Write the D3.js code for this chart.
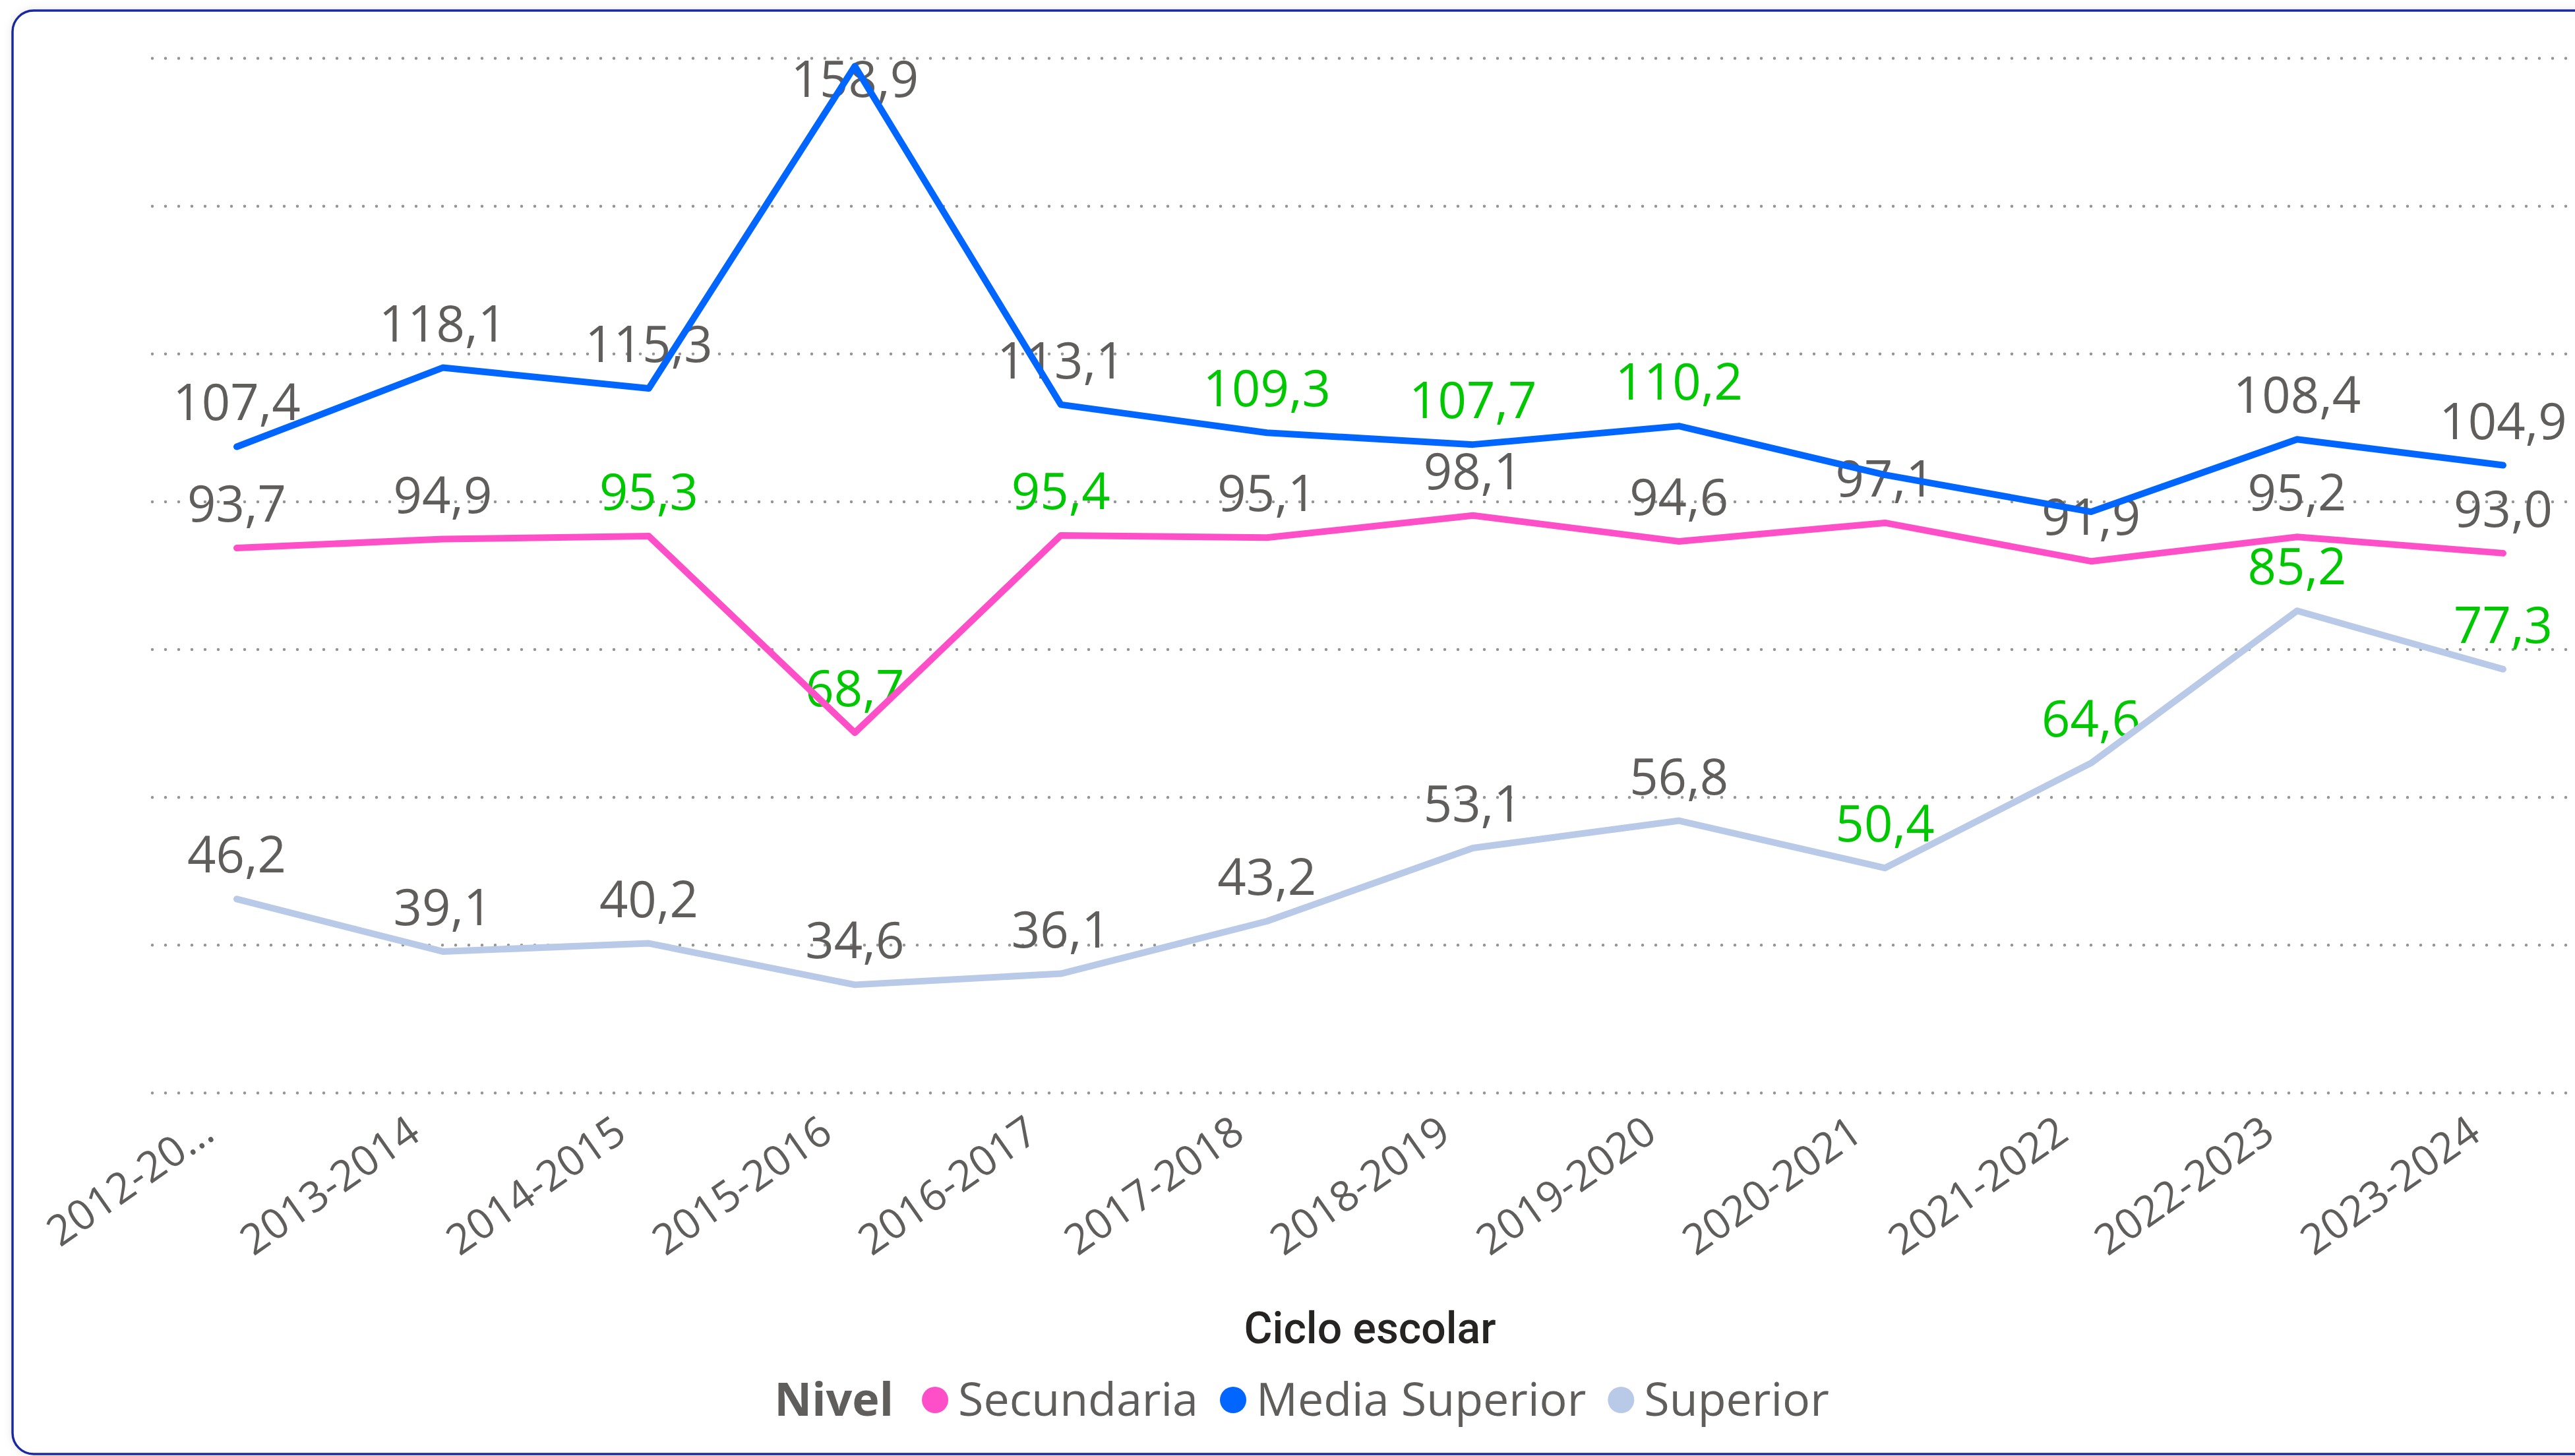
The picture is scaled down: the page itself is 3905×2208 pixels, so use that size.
<!DOCTYPE html>
<html><head><meta charset="utf-8">
<script src="https://cdn.jsdelivr.net/npm/d3@7"></script>
<style>html,body{margin:0;padding:0;background:#fff;overflow:hidden}</style>
</head><body>
<svg id="chart" width="3905" height="2208"></svg>
<script>
// ---- data ----
const categories = ["2012-2013","2013-2014","2014-2015","2015-2016","2016-2017","2017-2018","2018-2019","2019-2020","2020-2021","2021-2022","2022-2023","2023-2024"];
const tickLabels = ["2012-20\u2026","2013-2014","2014-2015","2015-2016","2016-2017","2017-2018","2018-2019","2019-2020","2020-2021","2021-2022","2022-2023","2023-2024"];
const secundaria    = [93.7, 94.9, 95.3, 68.7, 95.4, 95.1, 98.1, 94.6, 97.1, 91.9, 95.2, 93.0];
const mediaSuperior = [107.4, 118.1, 115.3, 158.9, 113.1, 109.3, 107.7, 110.2, 103.6, 98.6, 108.4, 104.9];
const superior      = [46.2, 39.1, 40.2, 34.6, 36.1, 43.2, 53.1, 56.8, 50.4, 64.6, 85.2, 77.3];
// label highlighted (green) flags
const secundariaHighlight    = [0,0,1,1,1,0,0,0,0,0,0,0];
const mediaSuperiorHighlight = [0,0,0,0,0,1,1,1,0,0,0,0];
const superiorHighlight      = [0,0,0,0,0,0,0,0,1,1,1,1];
// label shown flags (overlapping labels hidden)
const secundariaShown    = [1,1,1,1,1,1,1,1,1,1,1,1];
const mediaSuperiorShown = [1,1,1,1,1,1,1,1,0,0,1,1];
const superiorShown      = [1,1,1,1,1,1,1,1,1,1,1,1];
const seriesNames = ["Secundaria","Media Superior","Superior"];
const seriesColors = ["#FF4FC8","#0066FF","#B9C9E8"];
const gridTicks = [20,40,60,80,100,120,140,160];
const legendTitle = "Nivel";
const xTitle = "Ciclo escolar";

const series = [
  {name: seriesNames[0], color: seriesColors[0], values: secundaria, hl: secundariaHighlight, shown: secundariaShown},
  {name: seriesNames[1], color: seriesColors[1], values: mediaSuperior, hl: mediaSuperiorHighlight, shown: mediaSuperiorShown},
  {name: seriesNames[2], color: seriesColors[2], values: superior, hl: superiorHighlight, shown: superiorShown}
];

const svg = d3.select("#chart");
const labelFont = "'Segoe UI','Open Sans','Noto Sans',sans-serif";
const gray = "#605E5C";
const green = "#00C800";

// card with shadow + border
const defs = svg.append("defs");
const f = defs.append("filter").attr("id","sh").attr("x","-5%").attr("y","-5%").attr("width","110%").attr("height","110%");
f.append("feDropShadow").attr("dx",0).attr("dy",0).attr("stdDeviation",7).attr("flood-color","#000").attr("flood-opacity",0.13);
svg.append("rect").attr("x",19).attr("y",16).attr("width",3960).attr("height",2189).attr("rx",32).attr("ry",32)
  .attr("fill","#fff").attr("filter","url(#sh)");
svg.append("rect").attr("x",19).attr("y",16).attr("width",3960).attr("height",2189).attr("rx",32).attr("ry",32)
  .attr("fill","none").attr("stroke","#1A28A3").attr("stroke-width",3.5);

// scales
const x = d3.scalePoint().domain(categories).range([359, 3796]);
const y = d3.scaleLinear().domain([20, 160]).range([1657, 88]);

// gridlines
const gridX0 = 231, gridX1 = 3900;
const grid = svg.append("g").attr("transform", `translate(${gridX0},0)`)
  .call(d3.axisLeft(y).tickValues(gridTicks).tickSize(-(gridX1-gridX0)).tickFormat(""));
grid.select(".domain").remove();
grid.selectAll("line").attr("stroke","#959595").attr("stroke-width",4.5)
  .attr("stroke-dasharray","0 20").attr("stroke-linecap","round");

// x axis
const xa = svg.append("g").attr("transform","translate(0,1726)")
  .call(d3.axisBottom(x).tickSize(0).tickFormat((d,i)=>tickLabels[i]));
xa.select(".domain").remove();
xa.selectAll("text")
  .attr("y",0).attr("dy",0).attr("x",0)
  .attr("text-anchor","end")
  .attr("transform","translate(-31,0) rotate(-35)")
  .attr("fill",gray).attr("font-family",labelFont).attr("font-size",64);

// x title
svg.append("text").attr("x",(x.range()[0]+x.range()[1])/2).attr("y",2037)
  .attr("text-anchor","middle").attr("fill","#252423")
  .attr("font-family","'DIN','Roboto','Noto Sans',sans-serif").attr("font-weight",500).attr("font-size",66)
  .text(xTitle);

// number format with comma decimal
const loc = d3.formatLocale({decimal: ",", thousands: ".", grouping: [3], currency: ["", ""]});
const fmt = loc.format(".1f");

// data labels (below lines)
const lblG = svg.append("g");
series.forEach(s => {
  s.values.forEach((v,i) => {
    if (!s.shown[i]) return;
    lblG.append("text")
      .attr("x", x(categories[i]))
      .attr("y", Math.max(y(v) - 40, 147))
      .attr("text-anchor","middle")
      .attr("font-family",labelFont).attr("font-size",76)
      .attr("fill", s.hl[i] ? green : gray)
      .text(fmt(v));
  });
});

// lines
const line = d3.line().x((d,i)=>x(categories[i])).y(d=>y(d));
const drawOrder = [2,0,1];
drawOrder.forEach(k => {
  const s = series[k];
  svg.append("path").datum(s.values).attr("d", line)
    .attr("fill","none").attr("stroke", s.color).attr("stroke-width",10)
    .attr("stroke-linejoin","round").attr("stroke-linecap","round");
});

// legend
const lg = svg.append("g");
const legY = 2147, dotY = 2123;
let cx = 0;
const t0 = lg.append("text").attr("x",cx).attr("y",legY).attr("font-family",labelFont).attr("font-weight",700)
  .attr("font-size",70).attr("fill",gray).text(legendTitle);
cx += t0.node().getComputedTextLength() + 43;
series.forEach((s,i) => {
  lg.append("circle").attr("cx", cx+20).attr("cy", dotY).attr("r",20).attr("fill", s.color);
  cx += 40 + 15;
  const t = lg.append("text").attr("x",cx).attr("y",legY).attr("font-family",labelFont)
    .attr("font-size",70).attr("fill",gray).text(s.name);
  cx += t.node().getComputedTextLength() + (i < series.length-1 ? 33 : 0);
});
const legCenter = 1974;
lg.attr("transform", `translate(${legCenter - cx/2},0)`);
</script></body></html>
